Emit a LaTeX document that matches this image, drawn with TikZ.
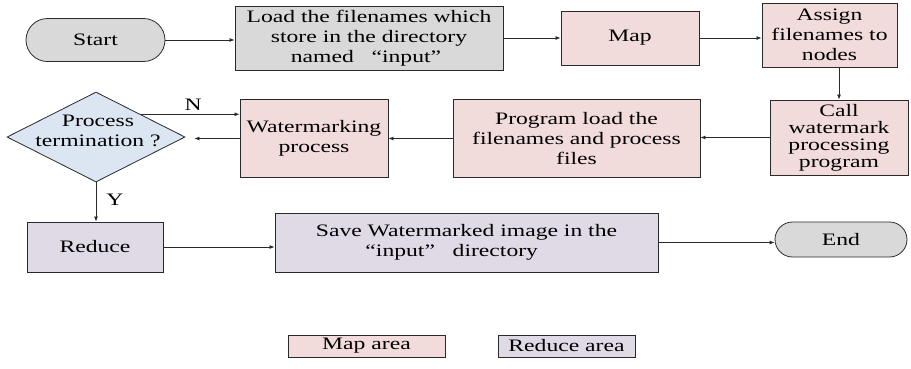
\documentclass[tikz,border=0pt]{standalone}
\usepackage{fontspec}
\setmainfont{Liberation Serif}[FakeStretch=1.35]
\usetikzlibrary{arrows.meta,shapes.geometric,shapes.misc}
\definecolor{grayfill}{HTML}{D9D9D9}
\definecolor{mapfill}{HTML}{F2DCDB}
\definecolor{redfill}{HTML}{DFDAE6}
\definecolor{diafill}{HTML}{DCE6F2}
\definecolor{edge}{HTML}{2A2A2A}
\begin{document}
\begin{tikzpicture}[x=1pt,y=-1pt,
  font=\rmfamily\fontsize{17.5}{20}\selectfont,
  box/.style={draw=edge, line width=0.9pt, rectangle, align=center, inner sep=0pt},
  mapbox/.style={box, fill=mapfill},
  redbox/.style={box, fill=redfill},
  term/.style={draw=edge, line width=0.8pt, rounded rectangle, fill=grayfill, inner sep=0pt},
  dia/.style={draw=edge, line width=0.8pt, diamond, fill=diafill, inner sep=0pt, aspect=1.98},
  arr/.style={draw=edge, line width=0.8pt, -{Latex[length=5pt,width=4pt]}},
  lbl/.style={inner sep=0pt, align=center}]
\useasboundingbox (0,0) rectangle (911,368);

% nodes
\node[term, minimum width=139, minimum height=43] (start) at (95.5,40) {Start};
\node[box, fill=grayfill, minimum width=268, minimum height=64] (load) at (369,38.5)
  {Load the filenames which\\store in the directory\\named \ \ “input” \ };
\node[mapbox, minimum width=138, minimum height=54] (map) at (630,38) {Map};
\node[mapbox, minimum width=135, minimum height=64] (assign) at (829.5,35)
  {Assign\\filenames to\\nodes};
\node[mapbox, minimum width=138, minimum height=75, font=\rmfamily\fontsize{17.5}{17}\selectfont] (call) at (839,137.5)
  {Call\\watermark\\processing\\program};
\node[mapbox, minimum width=247, minimum height=78] (prog) at (576.5,138.5)
  {Program load the\\filenames and process\\files};
\node[mapbox, minimum width=148, minimum height=78] (wm) at (314,138.5)
  {Watermarking\\process};
\node[dia, minimum width=178, minimum height=90] (pt) at (96,137) {};
\node[lbl] (pttext) at (98,131) {Process\\termination ?};
\node[redbox, minimum width=136, minimum height=50] (reduce) at (95,247) {Reduce};
\node[redbox, minimum width=383, minimum height=59] (save) at (466.5,242.5)
  {Save Watermarked image in the\\“input” \ \ directory \ \ \ \ \ };
\node[term, minimum width=132, minimum height=35] (end) at (841,239.5) {End};
\node[mapbox, minimum width=157, minimum height=22] (lmap) at (366.5,346) {Map area};
\node[redbox, minimum width=137, minimum height=22] (lred) at (566.5,346) {Reduce area};

% connectors
\draw[arr] (start.east) -- (start.east -| load.west);
\draw[arr] (load.east |- map.west) -- (map.west);
\draw[arr] (map.east) -- (map.east -| assign.west);
\draw[arr] (assign.south -| call.north) -- (call.north);
\draw[arr] (call.west) -- (call.west -| prog.east);
\draw[arr] (prog.west) -- (prog.west -| wm.east);
\draw[arr, shorten >=9pt] (wm.west) -- (wm.west -| pt.east);
\draw[arr] (pt.north east) -- (pt.north east -| wm.west)
  node[lbl, pos=0.53, above=3pt] (nlab) {N};
\draw[arr] (pt.south) -- (pt.south |- reduce.north)
  node[lbl, pos=0.45, right=10pt] (ylab) {Y};
\draw[arr] (reduce.east) -- (reduce.east -| save.west);
\draw[arr] (save.east) -- (save.east -| end.west);
\end{tikzpicture}
\end{document}
